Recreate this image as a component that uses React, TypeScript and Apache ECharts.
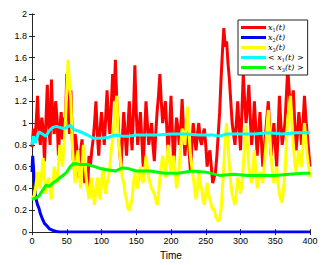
import React, { useEffect, useRef } from "react";
import * as echarts from "echarts";

const T_STEP = 2;
const x1Values = [
  0.78, 0.95, 0.85, 1.0, 1.25, 0.9, 0.8, 1.05, 0.95, 0.65, 1.0, 1.35, 1.0, 0.8, 1.4, 1.0, 0.9, 1.2, 1.05, 0.7,
  0.95, 1.1, 0.85, 1.05, 0.95, 1.45, 1.1, 0.9, 1.3, 0.85, 0.6, 0.9, 0.8, 0.65, 0.5, 0.75, 0.85, 0.6, 0.45, 0.55,
  0.4, 0.7, 0.6, 0.75, 0.85, 1.0, 1.2, 0.9, 0.7, 0.95, 1.1, 0.95, 0.8, 1.05, 1.3, 1.05, 0.9, 1.15, 1.45, 1.2,
  1.58, 1.2, 1.0, 0.75, 0.6, 0.85, 1.1, 0.9, 0.7, 0.95, 1.2, 0.95, 0.75, 1.1, 1.53, 1.1, 0.8, 0.95, 1.1, 0.85,
  0.6, 0.9, 1.2, 1.0, 0.8, 0.9, 1.0, 0.8, 0.65, 0.9, 1.1, 1.25, 1.45, 1.2, 1.0, 1.1, 1.2, 0.95, 0.7, 0.95,
  1.25, 0.9, 0.6, 0.85, 1.05, 0.95, 0.8, 0.95, 1.22, 0.95, 0.7, 0.85, 0.95, 0.75, 0.55, 0.8, 1.0, 0.85, 0.75, 0.9,
  1.0, 0.85, 0.8, 0.9, 0.95, 0.8, 0.6, 0.7, 0.75, 0.6, 0.45, 0.5, 0.55, 0.7, 0.9, 1.1, 1.4, 1.65, 1.87, 1.7,
  1.75, 1.55, 1.4, 1.2, 1.0, 0.9, 0.8, 1.0, 1.2, 0.95, 0.75, 1.1, 1.45, 1.2, 1.0, 1.15, 1.35, 1.05, 0.8, 0.95,
  1.2, 0.95, 0.7, 0.9, 1.1, 0.85, 0.6, 0.75, 0.9, 1.05, 1.2, 0.95, 0.7, 0.85, 1.0, 0.8, 0.6, 0.9, 1.25, 1.0,
  0.8, 0.9, 1.0, 1.25, 1.5, 1.3, 1.1, 1.2, 1.3, 1.0, 0.75, 0.9, 1.1, 0.95, 0.8, 1.0, 1.25, 1.05, 0.9, 0.75,
  0.6,
];
const x3Values = [
  0.3, 0.32, 0.35, 0.45, 0.55, 0.45, 0.4, 0.55, 0.68, 0.5, 0.35, 0.45, 0.5, 0.4, 0.3, 0.45, 0.6, 0.5, 0.45, 0.6,
  0.8, 0.7, 0.6, 0.8, 1.0, 1.3, 1.58, 1.35, 1.2, 0.8, 0.6, 0.45, 0.6, 0.75, 0.55, 0.4, 0.6, 0.8, 0.65, 0.5,
  0.4, 0.3, 0.4, 0.5, 0.35, 0.25, 0.4, 0.5, 0.4, 0.3, 0.45, 0.6, 0.45, 0.35, 0.45, 0.5, 0.6, 0.75, 0.85, 1.0,
  1.15, 1.25, 0.9, 0.75, 0.6, 0.5, 0.45, 0.35, 0.3, 0.22, 0.2, 0.25, 0.3, 0.45, 0.55, 0.45, 0.4, 0.5, 0.6, 0.5,
  0.45, 0.55, 0.7, 0.6, 0.5, 0.45, 0.4, 0.38, 0.35, 0.3, 0.25, 0.35, 0.5, 0.6, 0.7, 0.6, 0.5, 0.65, 0.8, 0.65,
  0.55, 0.65, 0.7, 0.55, 0.4, 0.5, 0.6, 0.8, 0.95, 0.9, 0.8, 1.0, 1.15, 0.9, 0.7, 0.6, 0.5, 0.4, 0.3, 0.4,
  0.55, 0.45, 0.4, 0.3, 0.25, 0.35, 0.45, 0.35, 0.3, 0.25, 0.2, 0.22, 0.15, 0.12, 0.1, 0.12, 0.2, 0.4, 0.6, 0.85,
  1.0, 0.8, 0.6, 0.45, 0.35, 0.3, 0.25, 0.35, 0.5, 0.45, 0.35, 0.45, 0.6, 0.8, 0.98, 0.8, 0.6, 0.5, 0.45, 0.6,
  0.75, 0.55, 0.4, 0.5, 0.55, 0.5, 0.45, 0.6, 0.75, 0.95, 1.12, 0.9, 0.7, 0.55, 0.45, 0.5, 0.6, 0.45, 0.35, 0.3,
  0.27, 0.4, 0.55, 0.8, 1.05, 1.15, 1.25, 1.0, 0.8, 0.65, 0.55, 0.65, 0.75, 0.65, 0.6, 0.8, 1.0, 0.85, 0.7, 0.6,
  0.5,
];
const x2Times = [0, 1, 2, 4, 6, 8, 10, 12, 15, 18, 21, 25, 30, 35, 40, 50, 100, 200, 300, 400];
const x2Values = [0.55, 0.7, 0.6, 0.4, 0.3, 0.25, 0.22, 0.17, 0.12, 0.08, 0.06, 0.03, 0.015, 0.005, 0.002, 0, 0, 0, 0, 0];
const avgX1Times = [0, 2, 5, 10, 15, 20, 25, 30, 35, 40, 45, 50, 55, 60, 70, 80, 88, 100, 110, 120, 130, 140, 150, 160, 180, 200, 220, 240, 260, 270, 280, 300, 320, 340, 360, 380, 400];
const avgX1Values = [0.8, 0.88, 0.82, 0.92, 0.9, 0.88, 0.93, 0.96, 0.97, 0.96, 0.95, 0.96, 0.98, 0.94, 0.92, 0.89, 0.86, 0.86, 0.87, 0.89, 0.88, 0.88, 0.89, 0.89, 0.89, 0.9, 0.9, 0.89, 0.89, 0.88, 0.9, 0.9, 0.9, 0.91, 0.9, 0.91, 0.91];
const avgX3Times = [0, 5, 10, 15, 20, 25, 30, 35, 40, 45, 50, 55, 60, 70, 80, 90, 100, 110, 120, 130, 140, 150, 170, 190, 210, 230, 250, 270, 290, 310, 330, 350, 370, 390, 400];
const avgX3Values = [0.3, 0.31, 0.33, 0.38, 0.43, 0.42, 0.45, 0.47, 0.5, 0.52, 0.55, 0.6, 0.63, 0.62, 0.62, 0.6, 0.58, 0.57, 0.56, 0.59, 0.58, 0.56, 0.56, 0.54, 0.54, 0.56, 0.55, 0.52, 0.53, 0.52, 0.52, 0.52, 0.53, 0.54, 0.54];
const yTicks = ["0", "0.2", "0.4", "0.6", "0.8", "1", "1.2", "1.4", "1.6", "1.8", "2"];

const names = ["x1", "x2", "x3", "avg1", "avg3"];
const legendLabels: Record<string, string> = {
  x1: "{i|x}{s|1}{i|(t)}",
  x2: "{i|x}{s|2}{i|(t)}",
  x3: "{i|x}{s|3}{i|(t)}",
  avg1: "{n|< }{i|x}{s|1}{i|(t)}{n| >}",
  avg3: "{n|< }{i|x}{s|3}{i|(t)}{n| >}",
};

export default function App() {
  const ref = useRef<HTMLDivElement>(null);
  useEffect(() => {
    if (!ref.current) return;
    const chart = echarts.init(ref.current, undefined, { renderer: "svg" });
    const axisColor = "#262626";
    const pair = (ts: number[], vs: number[]) => vs.map((v, i) => [ts[i], v]);
    const stepped = (vs: number[]) => vs.map((v, i) => [i * T_STEP, v]);
    const line = (name: string, data: number[][], color: string, z: number) => ({
      name,
      type: "line",
      data,
      showSymbol: false,
      symbol: "none",
      lineStyle: { color, width: 3 },
      itemStyle: { color },
      z,
      clip: true,
    });
    chart.setOption({
      animation: false,
      backgroundColor: "#fff",
      grid: { left: 32, right: 17, top: 14, bottom: 32 },
      xAxis: [
        {
          type: "value",
          min: 0,
          max: 400,
          interval: 50,
          name: "Time",
          nameLocation: "middle",
          nameGap: 15,
          nameTextStyle: { fontFamily: "Liberation Sans", fontSize: 10, color: "#000" },
          axisLine: { lineStyle: { color: axisColor, width: 1 } },
          axisTick: { inside: true, length: 3, lineStyle: { color: axisColor } },
          axisLabel: { fontFamily: "Liberation Sans", fontSize: 9, color: "#000", margin: 4 },
          splitLine: { show: false },
        },
        {
          type: "value",
          position: "top",
          min: 0,
          max: 400,
          interval: 50,
          axisLine: { show: true, lineStyle: { color: axisColor, width: 1 } },
          axisTick: { show: true, inside: true, length: 3, lineStyle: { color: axisColor } },
          axisLabel: { show: false },
          splitLine: { show: false },
        },
      ],
      yAxis: [
        {
          type: "value",
          min: 0,
          max: 2,
          interval: 0.2,
          axisLine: { show: true, lineStyle: { color: axisColor, width: 1 } },
          axisTick: { show: true, inside: true, length: 3, lineStyle: { color: axisColor } },
          axisLabel: {
            fontFamily: "Liberation Sans",
            fontSize: 9,
            color: "#000",
            margin: 5,
            formatter: (_v: number, idx: number) => yTicks[idx],
          },
          splitLine: { show: false },
        },
        {
          type: "value",
          position: "right",
          min: 0,
          max: 2,
          interval: 0.2,
          axisLine: { show: true, lineStyle: { color: axisColor, width: 1 } },
          axisTick: { show: true, inside: true, length: 3, lineStyle: { color: axisColor } },
          axisLabel: { show: false },
          splitLine: { show: false },
        },
      ],
      legend: {
        data: names,
        orient: "vertical",
        left: 238,
        top: 20,
        icon: "rect",
        itemWidth: 25,
        itemHeight: 3,
        itemGap: 1,
        padding: [3, 4, 3, 3],
        borderColor: "#222",
        borderWidth: 1,
        backgroundColor: "#fff",
        formatter: (n: string) => legendLabels[n],
        textStyle: {
          fontSize: 8,
          lineHeight: 9,
          color: "#000",
          padding: [0, 0, 0, -3],
          rich: {
            i: { fontFamily: "DejaVu Serif", fontStyle: "italic", fontSize: 8, color: "#000" },
            s: { fontFamily: "DejaVu Serif", fontSize: 5, color: "#000", verticalAlign: "bottom", padding: [3, 0, 0, 0] },
            n: { fontFamily: "DejaVu Serif", fontSize: 8, color: "#000" },
          },
        },
      },
      series: [
        line("x1", stepped(x1Values), "#ff0000", 2),
        line("x2", pair(x2Times, x2Values), "#0000ff", 3),
        line("x3", stepped(x3Values), "#ffff00", 4),
        line("avg1", pair(avgX1Times, avgX1Values), "#00ffff", 5),
        line("avg3", pair(avgX3Times, avgX3Values), "#00ff00", 6),
      ],
    });
    return () => chart.dispose();
  }, []);
  return <div ref={ref} style={{ width: 327, height: 265, marginLeft: -8, marginTop: -8 }} />;
}
